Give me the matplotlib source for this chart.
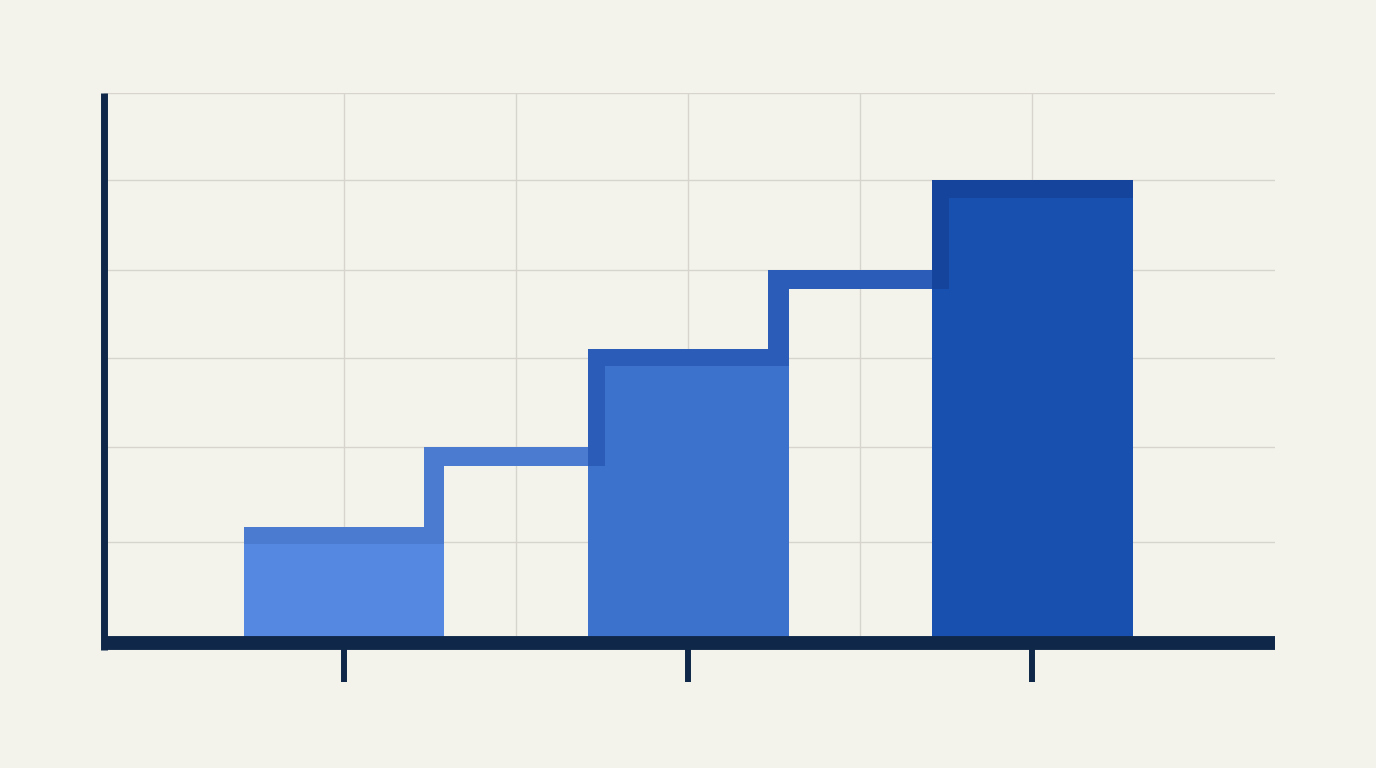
import numpy as np
import matplotlib.pyplot as plt

# data
positions = [1, 2, 3]
values = [1.27, 3.21, 5.05]
steps = [2.14, 4.07]
grid_levels = [1.10, 2.14, 3.11, 4.07, 5.05, 6.0]

fill_colors = ['#5588e0', '#3d72cc', '#1850b0']
edge_colors = ['#4a7bd0', '#2a5cb8', '#14449c']

bg = '#f3f3ec'
navy = '#0f2849'

bar_w = 0.584
band_h = 0.19      # dark band on top of each bar
step_h = 0.21      # thickness of the step connector
v_in = 0.05        # incoming vertical piece
v_out = 0.06       # outgoing vertical piece

fig = plt.figure(figsize=(13.76, 7.68), dpi=100, facecolor=bg)
ax = fig.add_axes([104.2 / 1376, 1 - 643.3 / 768, (1275 - 104.2) / 1376, (643.3 - 93.3) / 768])
ax.set_facecolor(bg)

ax.bar(positions, values, width=bar_w, color=fill_colors, zorder=2)

lefts = [p - bar_w / 2 for p in positions]
rights = [p + bar_w / 2 for p in positions]

for i in range(len(positions)):
    c = edge_colors[i]
    # top band
    ax.bar(lefts[i], band_h, width=bar_w, bottom=values[i] - band_h,
           align='edge', color=c, zorder=3)
    # incoming vertical from the previous step
    if i > 0:
        lo = steps[i - 1] - step_h
        ax.bar(lefts[i], values[i] - lo, width=v_in, bottom=lo,
               align='edge', color=c, zorder=3)
    # outgoing vertical + horizontal step towards next bar
    if i < len(steps):
        lo = values[i] - band_h
        ax.bar(rights[i] - v_out, steps[i] - lo, width=v_out, bottom=lo,
               align='edge', color=c, zorder=3)
        ax.bar(rights[i] - v_out, step_h, width=lefts[i + 1] - rights[i] + v_out,
               bottom=steps[i] - step_h, align='edge', color=c, zorder=3)

ax.set_xlim(0.303, 3.706)
ax.set_ylim(0, 6.0)

ax.set_xticks(positions)
ax.set_xticks([1.5, 2.5], minor=True)
ax.set_yticks(grid_levels)
ax.set_xticklabels([])
ax.set_yticklabels([])
ax.grid(True, which='both', color='#d6d4cc', linewidth=1.0)
ax.set_axisbelow(True)

ax.tick_params(axis='x', which='major', direction='out', length=28, width=4.3, color=navy)
ax.tick_params(axis='x', which='minor', length=0)
ax.tick_params(axis='y', which='both', length=0)

for side in ['top', 'right']:
    ax.spines[side].set_visible(False)
ax.spines['left'].set_linewidth(5)
ax.spines['left'].set_color(navy)
ax.spines['left'].set_capstyle('butt')
ax.spines['left'].set_bounds(-0.075, 6.0)
ax.spines['bottom'].set_linewidth(10)
ax.spines['bottom'].set_color(navy)
ax.spines['bottom'].set_capstyle('butt')
ax.spines['bottom'].set_zorder(4)

fig.savefig('out.png', dpi=100, facecolor=bg)
